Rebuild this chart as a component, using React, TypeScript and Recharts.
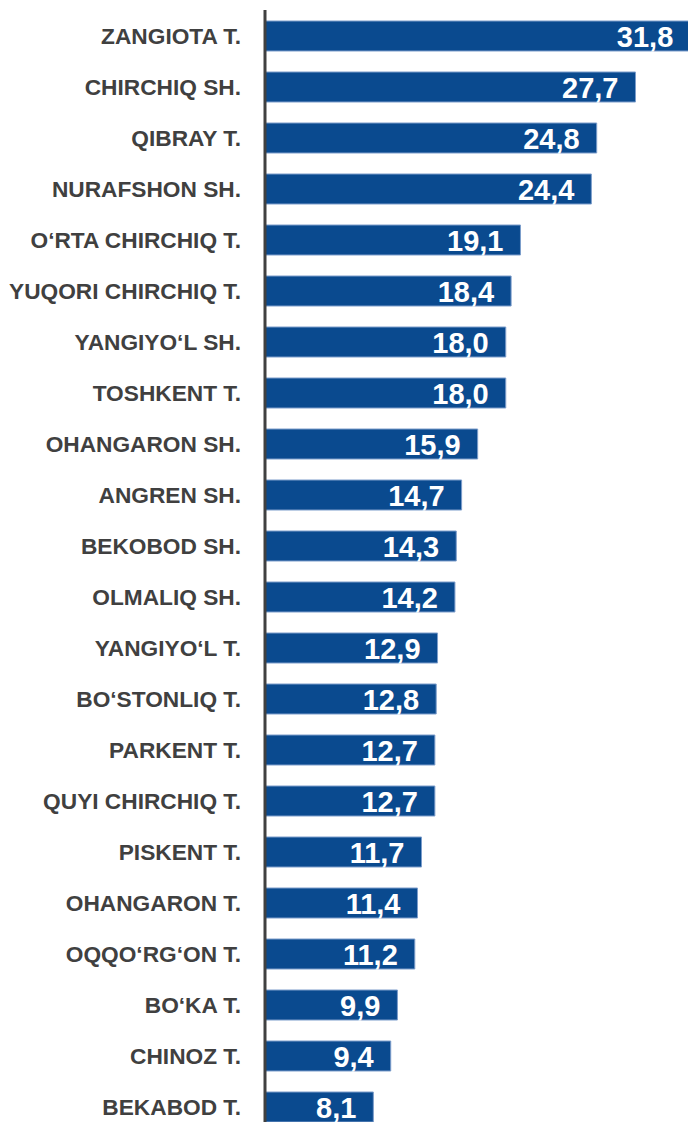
import { BarChart, Bar, XAxis, YAxis, LabelList } from "recharts";

const districts = [
  "ZANGIOTA T.",
  "CHIRCHIQ SH.",
  "QIBRAY T.",
  "NURAFSHON SH.",
  "O‘RTA CHIRCHIQ T.",
  "YUQORI CHIRCHIQ T.",
  "YANGIYO‘L SH.",
  "TOSHKENT T.",
  "OHANGARON SH.",
  "ANGREN SH.",
  "BEKOBOD SH.",
  "OLMALIQ SH.",
  "YANGIYO‘L T.",
  "BO‘STONLIQ T.",
  "PARKENT T.",
  "QUYI CHIRCHIQ T.",
  "PISKENT T.",
  "OHANGARON T.",
  "OQQO‘RG‘ON T.",
  "BO‘KA T.",
  "CHINOZ T.",
  "BEKABOD T.",
];

const values = [
  31.8, 27.7, 24.8, 24.4, 19.1, 18.4, 18.0, 18.0, 15.9, 14.7, 14.3, 14.2, 12.9,
  12.8, 12.7, 12.7, 11.7, 11.4, 11.2, 9.9, 9.4, 8.1,
];

const BAR_FILL = "#0A4A8F";
const BAR_STROKE = "#7C9DCB";
const TEXT_COLOR = "#404040";

const fmt = (v: number) => v.toFixed(1).replace(".", ",");

function CategoryTick(props: any) {
  const { x, y, payload } = props;
  return (
    <text
      x={x}
      y={y}
      dy={8}
      textAnchor="end"
      fill={TEXT_COLOR}
      fontFamily="Liberation Sans, Arial, sans-serif"
      fontWeight="bold"
      fontSize={22.7}
    >
      {payload.value}
    </text>
  );
}

function ValueLabel(props: any) {
  const { x, y, width, height, value } = props;
  return (
    <text
      x={x + width - 17}
      y={y + height / 2}
      dy={10.5}
      textAnchor="end"
      fill="#ffffff"
      fontFamily="Liberation Sans, Arial, sans-serif"
      fontWeight="bold"
      fontSize={29}
    >
      {fmt(value)}
    </text>
  );
}

export default function App() {
  const data = districts.map((name, i) => ({ name, value: values[i] }));

  return (
    <div
      style={{
        position: "absolute",
        left: 0,
        top: 0,
        width: 688,
        height: 1122,
        overflow: "hidden",
        background: "#ffffff",
      }}
    >
      <BarChart
        width={693}
        height={1132}
        data={data}
        layout="vertical"
        margin={{ top: 10, right: 0, bottom: 0, left: 0 }}
        barCategoryGap={21}
      >
        <XAxis type="number" domain={[0, 32]} hide />
        <YAxis
          type="category"
          dataKey="name"
          width={265}
          axisLine={{ stroke: TEXT_COLOR, strokeWidth: 3 }}
          tickLine={false}
          tickSize={0}
          tickMargin={24}
          interval={0}
          tick={<CategoryTick />}
        />
        <Bar
          dataKey="value"
          fill={BAR_FILL}
          stroke={BAR_STROKE}
          strokeWidth={1}
          barSize={30}
          isAnimationActive={false}
        >
          <LabelList dataKey="value" content={<ValueLabel />} />
        </Bar>
      </BarChart>
    </div>
  );
}
